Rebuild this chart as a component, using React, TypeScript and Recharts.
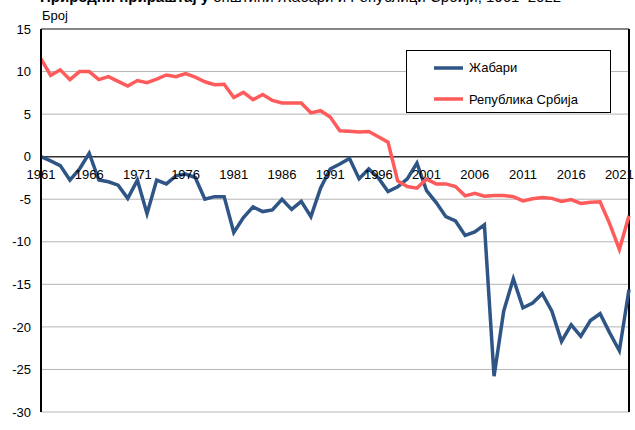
import React from "react";
import {
  LineChart,
  Line,
  XAxis,
  YAxis,
  CartesianGrid,
  ReferenceLine,
  ReferenceDot,
  Legend,
} from "recharts";

const FONT = "'Liberation Sans', Arial, sans-serif";

const years = Array.from({ length: 62 }, (_, i) => 1961 + i);

const xTicks = [1961, 1966, 1971, 1976, 1981, 1986, 1991, 1996, 2001, 2006, 2011, 2016, 2021];
const yTicks = [-30, -25, -20, -15, -10, -5, 0, 5, 10, 15];

const zabari = [
  0.0, -0.5, -1.05, -2.75, -1.45, 0.4, -2.75, -2.95, -3.35, -4.9,
  -2.75, -6.7, -2.75, -3.2, -2.25, -2.05, -2.45, -5.0, -4.7, -4.7,
  -8.9, -7.15, -5.9, -6.45, -6.25, -5.0, -6.2, -5.25, -7.05, -3.7,
  -1.45, -0.87, -0.2, -2.6, -1.45, -2.5, -4.1, -3.55, -2.6, -0.75,
  -4.0, -5.4, -7.05, -7.55, -9.25, -8.85, -8.0, -25.8, -18.15, -14.35,
  -17.75, -17.2, -16.1, -18.15, -21.7, -19.75, -21.1, -19.25, -18.45, -20.7,
  -22.8, -15.6,
];

const srbija = [
  11.5, 9.55, 10.2, 9.05, 10.0, 10.0, 9.05, 9.4, 8.85, 8.3,
  8.95, 8.7, 9.1, 9.6, 9.4, 9.75, 9.35, 8.8, 8.45, 8.5,
  6.95, 7.55, 6.7, 7.3, 6.6, 6.3, 6.3, 6.3, 5.15, 5.4,
  4.65, 3.05, 3.0, 2.9, 2.95, 2.35, 1.7, -2.85, -3.5, -3.7,
  -2.65, -3.2, -3.2, -3.5, -4.6, -4.3, -4.65, -4.55, -4.55, -4.7,
  -5.2, -4.95, -4.8, -4.9, -5.25, -5.05, -5.5, -5.35, -5.3, -7.9,
  -10.9, -6.95,
];

const data = years.map((year, i) => ({
  year,
  zabari: zabari[i],
  srbija: srbija[i],
}));

const BLUE = "#2e5585";
const RED = "#ff5b5b";

function LegendBox(props: any) {
  const items = props.payload || [];
  return (
    <div style={{ position: "relative", width: "100%", height: "100%" }}>
      {items.map((item: any, i: number) => (
        <div
          key={item.value}
          style={{
            position: "absolute",
            left: 27,
            top: 8 + i * 31.6,
            height: 17,
            display: "flex",
            alignItems: "center",
            fontFamily: FONT,
            fontSize: 13,
            color: "#000",
          }}
        >
          <svg width={29} height={6} style={{ marginRight: 6 }}>
            <line x1={0} y1={3} x2={29} y2={3} stroke={item.color} strokeWidth={3.5} />
          </svg>
          <span>{item.value}</span>
        </div>
      ))}
    </div>
  );
}

export default function App() {
  return (
    <div style={{ position: "absolute", left: 0, top: 0, width: 635, height: 430, background: "#fff", overflow: "hidden" }}>
      <div
        style={{
          position: "absolute",
          left: 40,
          top: -12,
          fontFamily: FONT,
          fontSize: 15,
          whiteSpace: "nowrap",
          color: "#000",
        }}
      >
        <b>Природни прираштај у </b>
        <span>општини Жабари и Републици Србији, 1961–2022</span>
      </div>
      <div
        style={{
          position: "absolute",
          left: 42,
          top: 8,
          fontFamily: FONT,
          fontSize: 13,
          color: "#000",
        }}
      >
        Број
      </div>
      <LineChart
        width={635}
        height={430}
        data={data}
        margin={{ top: 29, right: 6, bottom: 18, left: 0 }}
        style={{ position: "absolute", left: 0, top: 0 }}
      >
        <CartesianGrid stroke="#b4b4b4" strokeWidth={1} />
        <XAxis
          dataKey="year"
          type="number"
          domain={[1961, 2022]}
          ticks={xTicks}
          tick={false}
          tickLine={false}
          height={0}
          axisLine={{ stroke: "#000", strokeWidth: 2 }}
        />
        <YAxis
          type="number"
          domain={[-30, 15]}
          ticks={yTicks}
          width={41}
          tickLine={false}
          tickSize={6}
          tickMargin={4}
          axisLine={{ stroke: "#000", strokeWidth: 2 }}
          tick={{ fill: "#000", fontSize: 13, fontFamily: FONT }}
          interval={0}
        />
        <ReferenceLine y={15} stroke="#333" strokeWidth={1} />
        <ReferenceLine x={2022} stroke="#000" strokeWidth={2} />
        <ReferenceLine y={0} stroke="#333" strokeWidth={1.5} />
        {xTicks.map((yr) => (
          <ReferenceDot
            key={yr}
            x={yr}
            y={0}
            r={0}
            fill="none"
            stroke="none"
            label={{
              value: String(yr),
              position: "bottom",
              offset: 13,
              fill: "#000",
              fontSize: 13,
              fontFamily: FONT,
            }}
          />
        ))}
        <Line
          type="linear"
          dataKey="zabari"
          name="Жабари"
          stroke={BLUE}
          strokeWidth={3.5}
          dot={false}
          isAnimationActive={false}
        />
        <Line
          type="linear"
          dataKey="srbija"
          name="Република Србија"
          stroke={RED}
          strokeWidth={3.5}
          dot={false}
          isAnimationActive={false}
        />
        <Legend
          layout="vertical"
          align="center"
          verticalAlign="middle"
          content={<LegendBox />}
          wrapperStyle={{
            left: 406,
            top: 50,
            width: 205,
            height: 63,
            border: "1px solid #000",
            background: "#fff",
            boxSizing: "border-box",
          }}
        />
      </LineChart>
    </div>
  );
}
